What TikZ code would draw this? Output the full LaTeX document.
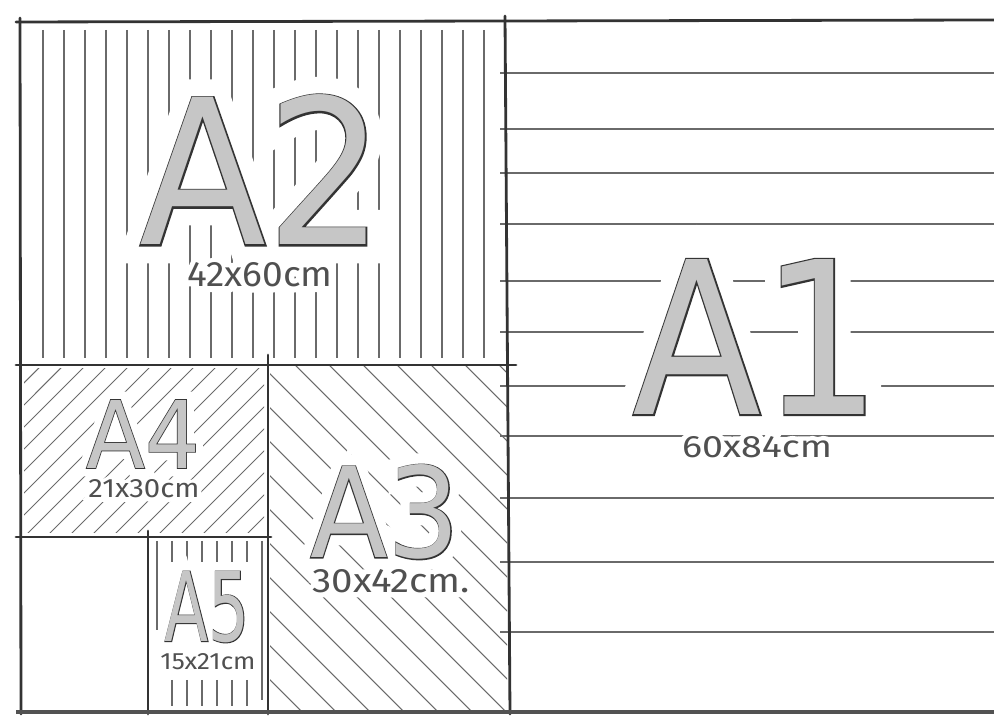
\documentclass[tikz,border=0pt]{standalone}
\usepackage{fontspec}
\usepackage{graphicx}
\newfontfamily\bigfont{DejaVu Sans}
\newfontfamily\bigfontrim{DejaVu Sans}[FakeBold=1.6]
\newfontfamily\bigfonthalo{DejaVu Sans}[FakeBold=18]
\newfontfamily\dimfont{Fira Sans}
\newfontfamily\dimfonthalo{Fira Sans}[FakeBold=30]
\definecolor{penGrey}{HTML}{333333}
\definecolor{dimGrey}{HTML}{505050}
\definecolor{hatchGrey}{HTML}{6A6A6A}
\definecolor{markerGrey}{HTML}{C6C6C6}
\newlength\px
\setlength\px{0.2mm}
% big sheet name: white halo, dark rim, grey marker fill
\newcommand\papertitle[6]{%
  \node[label box] (#1) at (#2,#3) {\resizebox{#4\px}{#5\px}{%
    \rlap{\color{white}\bigfonthalo #6}\rlap{\color{penGrey}\bigfontrim #6}{\color{markerGrey}\bigfont #6}}};}
% sheet size in cm
\newcommand\papersize[6]{%
  \node[label box] (#1) at (#2,#3) {\resizebox{#4\px}{#5\px}{%
    \rlap{\color{white}\dimfonthalo #6}{\color{dimGrey}\dimfont #6}}};}
\begin{document}
\begin{tikzpicture}[
    x=0.2mm, y=-0.2mm,
    frame/.style={draw=penGrey, line width=1.6pt, line cap=round},
    hatch/.style={draw=hatchGrey, line width=0.6pt},
    label box/.style={inner sep=0pt, outer sep=0pt}
  ]
  \useasboundingbox (0,0) rectangle (994,716);
  % A2: vertical strokes
  \begin{scope}
    \clip (20,22) rectangle (505,365);
    \foreach \x in {43,64,...,495} \draw[hatch] (\x,30) -- (\x,358);
  \end{scope}
  % A1: horizontal strokes
  \foreach \y in {73,129,173,224,281,332,386,436,498,562,632}
    \draw[hatch] (500,\y) -- (994,\y);
  % A4: rising strokes
  \begin{scope}
    \clip (24,369) rectangle (264,533);
    \foreach \x in {-152,-130,...,268} \draw[hatch] (\x,537) -- ++(172,-172);
  \end{scope}
  % A3: falling strokes
  \begin{scope}
    \clip (270,367) rectangle (507,710);
    \foreach \x in {-79,-45,...,512} \draw[hatch] (\x,365) -- ++(347,347);
  \end{scope}
  % A5: short vertical strokes
  \foreach \x in {172,187,...,250} {
    \draw[hatch] (\x,541) -- (\x,562);
    \draw[hatch] (\x,680) -- (\x,706);
  }
  \draw[hatch] (157,541) -- (157,630);
  \draw[hatch] (262,541) -- (262,700);

  % sheet borders
  \draw[frame] (16,22) -- (994,20);
  \draw[frame] (20,18) -- (21,714);
  \draw[frame] (505,16) -- (510,714);
  \draw[frame] (16,365) -- (516,365);
  \draw[frame] (268,355) -- (268,714);
  \draw[frame] (16,537) -- (271,537);
  \draw[frame] (148,531) -- (148,714);
  \draw[draw=penGrey!85, line width=2.6pt] (16,712) -- (994,712);

  \papertitle{a2}{262}{170}{245}{150}{A2}
  \papertitle{a1}{757}{337}{249}{155}{A1}
  \papertitle{a4}{143}{434}{114}{68}{A4}
  \papertitle{a3}{385}{512}{150}{93}{A3}
  \papertitle{a5}{207}{607}{85}{70}{A5}
  \papersize{a2-size}{260}{275}{145}{24}{42x60cm}
  \papersize{a1-size}{757}{447}{150}{21}{60x84cm}
  \papersize{a4-size}{144}{489}{111}{18}{21x30cm}
  \papersize{a3-size}{391}{581}{157}{23}{30x42cm.}
  \papersize{a5-size}{208}{662}{95}{16}{15x21cm}
\end{tikzpicture}
\end{document}
